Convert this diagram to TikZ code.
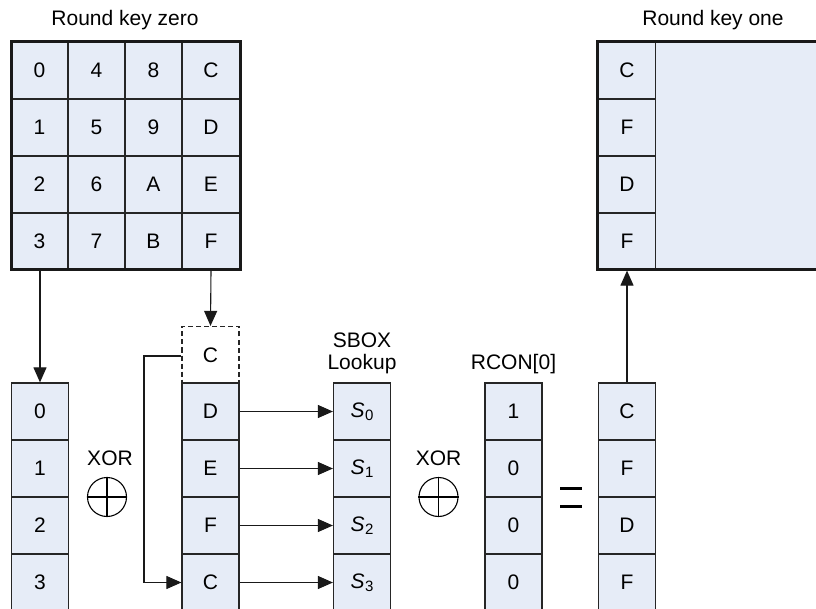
\documentclass[tikz,border=0pt]{standalone}
\usepackage{fontspec}
\setmainfont{Liberation Sans}
\usetikzlibrary{arrows.meta}
\definecolor{cellblue}{RGB}{230,236,247}
\tikzset{
  cell/.style={draw=black!85, fill=cellblue, line width=1.2pt, minimum width=57pt, minimum height=57pt, inner sep=0pt, font=\fontsize{21}{23}\selectfont, anchor=center},
  dcell/.style={cell, fill=white, dash pattern=on 5pt off 3pt},
  thickbox/.style={draw=black!90, line width=3pt},
  arr/.style={-{Triangle[length=15pt,width=13pt]}, line width=1.1pt, draw=black!90},
  lbl/.style={font=\fontsize{21}{23}\selectfont, inner sep=0pt},
}
\newcommand{\sbx}[1]{\textit{S}\kern0.5pt\raisebox{-3pt}{\fontsize{15}{15}\selectfont #1}}
\begin{document}
\begin{tikzpicture}[x=1pt,y=-1pt]
\useasboundingbox (0,0) rectangle (816,609);
\clip (0,0) rectangle (816,609);
% Round key zero
\node[lbl] (t0) at (125,20) {Round key zero};
\foreach \c/\x/\la/\lb/\lc/\ld in {0/39.5/0/1/2/3, 1/96.5/4/5/6/7, 2/153.5/8/9/A/B, 3/211/C/D/E/F}{
  \node[cell] (k\c0) at (\x,70.5) {\la};
  \node[cell] (k\c1) at (\x,127.5) {\lb};
  \node[cell] (k\c2) at (\x,184.5) {\lc};
  \node[cell] (k\c3) at (\x,241.5) {\ld};
}
\draw[thickbox] (11,42) rectangle (240,270);
% Round key one
\node[lbl] (t1) at (713,20) {Round key one};
\fill[cellblue] (597,42) rectangle (830,270);
\node[cell] (r0) at (627,70.5) {C};
\node[cell] (r1) at (627,127.5) {F};
\node[cell] (r2) at (627,184.5) {D};
\node[cell] (r3) at (627,241.5) {F};
\draw[thickbox] (597,42) rectangle (830,270);
% bottom left column
\node[cell] (a0) at (40,411.5) {0};
\node[cell] (a1) at (40,468.5) {1};
\node[cell] (a2) at (40,525.5) {2};
\node[cell] (a3) at (40,582.5) {3};
% middle column
\node[dcell] (m0) at (210.5,355) {C};
\node[cell] (m1) at (210.5,411.5) {D};
\node[cell] (m2) at (210.5,468.5) {E};
\node[cell] (m3) at (210.5,525.5) {F};
\node[cell] (m4) at (210.5,582.5) {C};
% SBOX column
\node[lbl, align=center] (sl) at (362,353) {SBOX\\[-1pt]Lookup};
\node[cell] (s0) at (362,411.5) {\sbx{0}};
\node[cell] (s1) at (362,468.5) {\sbx{1}};
\node[cell] (s2) at (362,525.5) {\sbx{2}};
\node[cell] (s3) at (362,582.5) {\sbx{3}};
% RCON
\node[lbl] (rl) at (513.5,364) {RCON[0]};
\node[cell] (c0) at (513.5,411.5) {1};
\node[cell] (c1) at (513.5,468.5) {0};
\node[cell] (c2) at (513.5,525.5) {0};
\node[cell] (c3) at (513.5,582.5) {0};
% result column
\node[cell] (e0) at (627,411.5) {C};
\node[cell] (e1) at (627,468.5) {F};
\node[cell] (e2) at (627,525.5) {D};
\node[cell] (e3) at (627,582.5) {F};
% XOR symbols
\node[lbl] (x1) at (110,458) {XOR};
\node[draw, circle, minimum size=39pt, inner sep=0pt, line width=1.1pt] (o1) at (107,497) {};
\draw[line width=1.1pt] (o1.north) -- (o1.south) (o1.west) -- (o1.east);
\node[lbl] (x2) at (438.5,458) {XOR};
\node[draw, circle, minimum size=39pt, inner sep=0pt, line width=1.1pt] (o2) at (438.5,497) {};
\draw[line width=1.1pt] (o2.north) -- (o2.south) (o2.west) -- (o2.east);
% equals
\draw[line width=3pt] (560,488) -- (582,488) (560,506) -- (582,506);
% connectors
\draw[arr] (k03.south -| a0.north) -- (a0.north);
\draw[arr] (k33.south) -- (m0.north);
\draw[arr] (m0.west |- 0,356) -- (144,356) -- (144,582.5) -- (m4.west);
\draw[arr] (m1.east) -- (s0.west);
\draw[arr] (m2.east) -- (s1.west);
\draw[arr] (m3.east) -- (s2.west);
\draw[arr] (m4.east) -- (s3.west);
\draw[arr] (e0.north) -- (r3.south);
\end{tikzpicture}
\end{document}
